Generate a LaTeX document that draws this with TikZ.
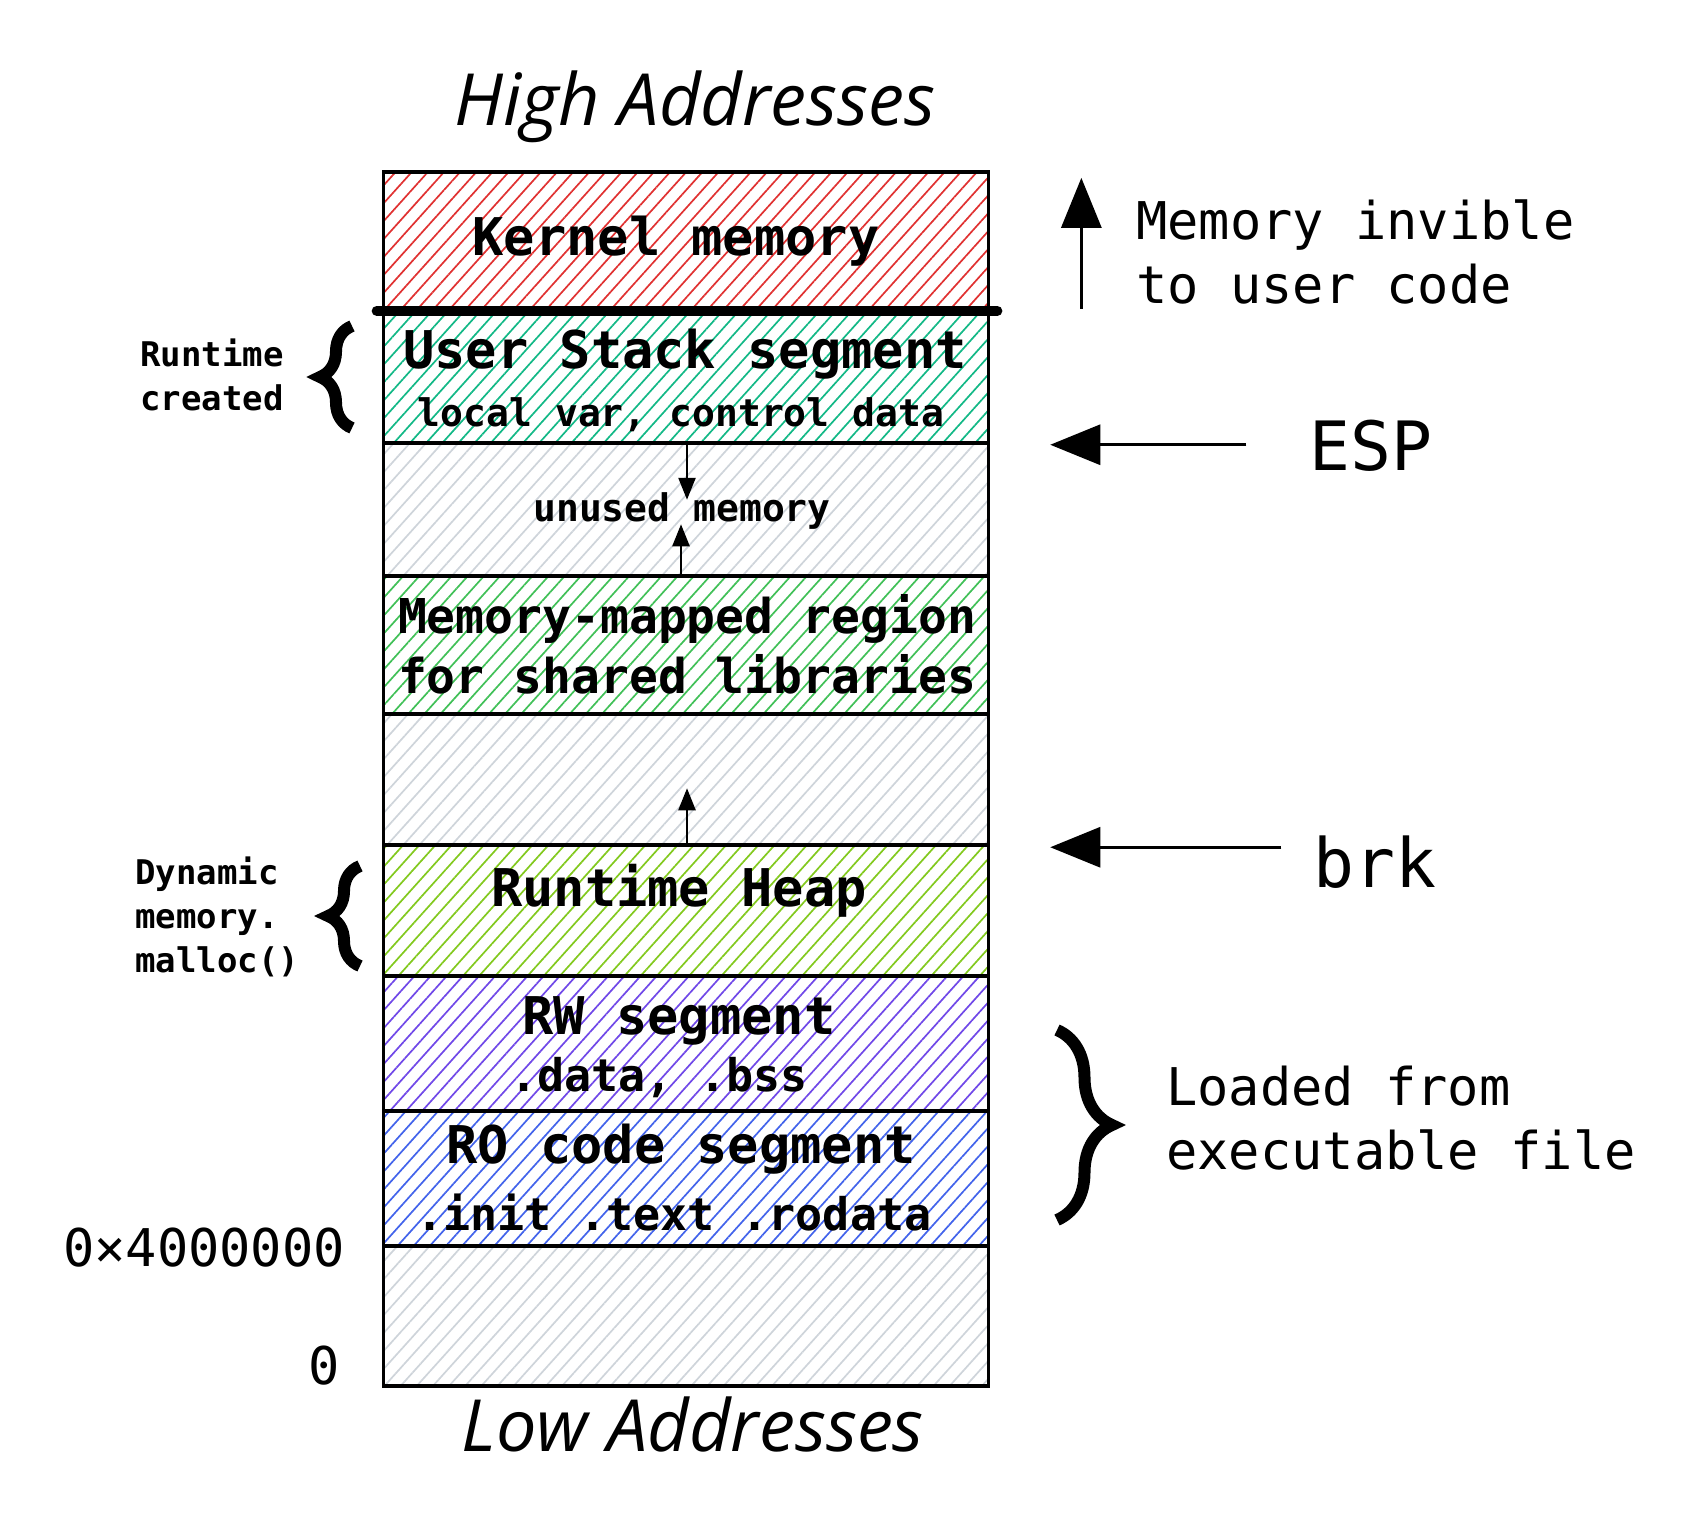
\documentclass[tikz,border=0pt]{standalone}
\usepackage{fontspec}
\setmonofont{DejaVu Sans Mono}
\newfontfamily\handfont{Open Sans}
\usepackage{tikz}
\usetikzlibrary{arrows.meta, positioning, calc, decorations.pathreplacing, patterns.meta}

\definecolor{kernred}{HTML}{E03131}
\definecolor{stackgreen}{HTML}{12B886}
\definecolor{mmapgreen}{HTML}{40C057}
\definecolor{heapgreen}{HTML}{82C91E}
\definecolor{rwviolet}{HTML}{7048E8}
\definecolor{roblue}{HTML}{4263EB}
\definecolor{freegray}{HTML}{CED4DA}

\newcommand{\fsz}[2]{\fontsize{#1}{#2}\selectfont}

\begin{document}
\begin{tikzpicture}[x=1pt, y=-1pt,
  seg/.style={draw, line width=3.5pt, minimum width=605pt, inner sep=0pt},
  hatch/.style={pattern={Lines[angle=48, distance=12pt, line width=1.7pt]}, pattern color=#1},
  big/.style={font=\ttfamily\bfseries\fsz{52}{60}, inner sep=0pt},
  mid/.style={font=\ttfamily\bfseries\fsz{45}{54}, inner sep=0pt},
  two/.style={font=\ttfamily\bfseries\fsz{48}{60}, inner sep=0pt, align=center},
  small/.style={font=\ttfamily\bfseries\fsz{38}{44}, inner sep=0pt},
  side/.style={font=\ttfamily\fsz{52}{64}, inner sep=0pt, align=left},
  ptr/.style={font=\ttfamily\fsz{68}{80}, inner sep=0pt},
  note/.style={font=\ttfamily\bfseries\fsz{34}{44}, inner sep=0pt, align=left},
  addr/.style={font=\ttfamily\fsz{52}{60}, inner sep=0pt},
  hand/.style={font=\handfont\itshape\fsz{72}{80}, inner sep=0pt},
  arr/.style={-{Triangle[length=50pt, width=40pt]}, line width=3pt},
  sarr/.style={-{Triangle[length=22pt, width=17pt]}, line width=2.5pt},
  brc/.style={decorate, decoration={brace, amplitude=#1}, line width=12pt},
]
\useasboundingbox (0,0) rectangle (1704,1526);

% Memory regions, top to bottom
\node[seg, hatch=kernred,    minimum height=138pt] (kern)   at (686,241)    {};
\node[seg, hatch=stackgreen, minimum height=133pt] (stack)  at (686,376.5)  {};
\node[seg, hatch=freegray,   minimum height=133pt] (unused) at (686,509.5)  {};
\node[seg, hatch=mmapgreen,  minimum height=138pt] (mmap)   at (686,645)    {};
\node[seg, hatch=freegray,   minimum height=131pt] (gap)    at (686,779.5)  {};
\node[seg, hatch=heapgreen,  minimum height=131pt] (heap)   at (686,910.5)  {};
\node[seg, hatch=rwviolet,   minimum height=135pt] (rw)     at (686,1043.5) {};
\node[seg, hatch=roblue,     minimum height=135pt] (ro)     at (686,1178.5) {};
\node[seg, hatch=freegray,   minimum height=140pt] (low)    at (686,1316)   {};

% user / kernel split
\draw[line width=10pt, line cap=round] ([xshift=-6pt]kern.south west) -- ([xshift=8pt]kern.south east);

% Region texts
\node[big]   (kernT)   at (676,241)  {Kernel memory};
\node[big]   (stackT)  at (685,354)  {User Stack segment};
\node[small] (stackS)  at (681,415)  {local var, control data};
\node[small] (unusedT) at (682,511)  {unused memory};
\node[two]   (mmapT)   at (687,644)  {Memory-mapped region\\for shared libraries};
\node[big]   (heapT)   at (679,891)  {Runtime Heap};
\node[big]   (rwT)     at (679,1021) {RW segment};
\node[mid]   (rwS)     at (659,1078) {.data, .bss};
\node[big]   (roT)     at (681,1149) {RO code segment};
\node[mid]   (roS)     at (674,1213) {.init .text .rodata};

% Growth arrows
\draw[sarr] ([xshift=1pt]stack.south) -- ++(0,55);
\draw[sarr] ([xshift=-5pt]mmap.north) -- ++(0,-50);
\draw[sarr] ([xshift=1pt]heap.north) -- ++(0,-55);

% Titles
\node[hand] (high)  at (695,107)  {High Addresses};
\node[hand] (lowT)  at (693,1424) {Low Addresses};

% Right side
\node[side, anchor=west] (invis)  at (1136,252)  {Memory invible\\to user code};
\node[ptr] (esp) at (1371,446) {ESP};
\node[ptr] (brk) at (1375,862) {brk};
\node[side, anchor=west] (loaded) at (1166,1118) {Loaded from\\executable file};

\coordinate (upFoot) at ($(kern.south east)+(92,-2)$);
\draw[arr] (upFoot) -- ++(0,-131);
\coordinate (espTip) at ($(stack.south east)+(60,0)$);
\draw[arr] ($(esp.west |- espTip)+(-63,0)$) -- (espTip);
\coordinate (brkTip) at ($(heap.north east)+(60,4)$);
\draw[arr] ($(brk.west |- brkTip)+(-32,0)$) -- (brkTip);
\draw[brc=55pt] (1057,1030) -- (1057,1220);

% Left side
\node[note, anchor=west] (rtNote)  at (140,375) {Runtime\\created};
\node[note, anchor=west] (dynNote) at (135,917) {Dynamic\\memory.\\malloc()};
\draw[brc=32pt] (352,428) -- (352,326);
\draw[brc=32pt] (360,966) -- (360,866);
\node[addr] (addrT) at (204,1248) {0×4000000};
\node[addr] (zero)  at (324,1366) {0};
\end{tikzpicture}
\end{document}
